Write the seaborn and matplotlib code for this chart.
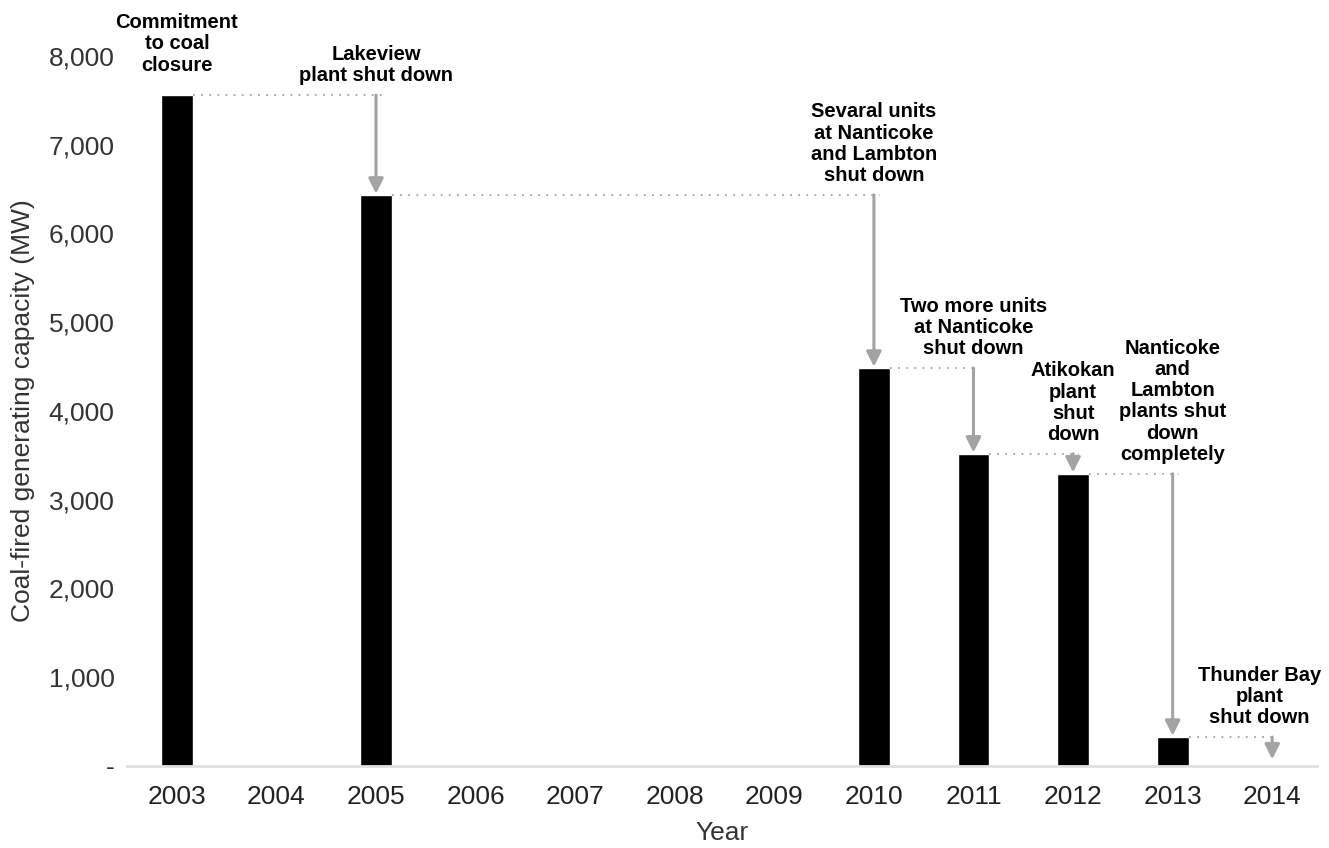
import matplotlib
matplotlib.use("Agg")
import matplotlib.pyplot as plt
from matplotlib.ticker import FuncFormatter
import pandas as pd
import seaborn as sns

years = [2003, 2004, 2005, 2006, 2007, 2008, 2009, 2010, 2011, 2012, 2013, 2014]
capacity = [7560, 0, 6434, 0, 0, 0, 0, 4484, 3517, 3293, 326, 0]

# (from year, to year, text) - the dotted level is taken from the "from" bar,
# the arrow lands on the "to" bar
events = [
    (2003, 2005, "Lakeview\nplant shut down"),
    (2005, 2010, "Sevaral units\nat Nanticoke\nand Lambton\nshut down"),
    (2010, 2011, "Two more units\nat Nanticoke\nshut down"),
    (2011, 2012, "Atikokan\nplant\nshut\ndown"),
    (2012, 2013, "Nanticoke\nand\nLambton\nplants shut\ndown\ncompletely"),
    (2013, 2014, "Thunder Bay\nplant\nshut down"),
]
first_label = "Commitment\nto coal\nclosure"

sns.set_style("white")
plt.rcParams['font.family'] = ['Liberation Sans', 'DejaVu Sans']

df = pd.DataFrame({'year': [str(y) for y in years], 'capacity': capacity})

fig, ax = plt.subplots(figsize=(13.29, 8.48), dpi=100)
fig.subplots_adjust(left=0.0956, right=0.991, bottom=0.0967, top=0.934)

sns.barplot(data=df, x='year', y='capacity', color='black', width=0.32,
            saturation=1, ax=ax)

ax.set_ylim(0, 8000)
ax.set_xlim(-0.5, 11.45)
ax.set_yticks(range(0, 8001, 1000))
ax.yaxis.set_major_formatter(FuncFormatter(lambda v, p: '-' if v == 0 else f'{int(v):,}'))

for s in ['top', 'right', 'left']:
    ax.spines[s].set_visible(False)
ax.spines['bottom'].set_color('#e0e0e0')
ax.spines['bottom'].set_linewidth(2)

ax.tick_params(axis='x', length=0, pad=14, labelsize=19, labelcolor='#222222')
ax.tick_params(axis='y', length=0, pad=9, labelsize=19, labelcolor='#333333')
ax.set_xlabel('Year', fontsize=19, color='#333333', labelpad=8)
ax.set_ylabel('Coal-fired generating capacity (MW)', fontsize=19, color='#333333', labelpad=10)

pos = {y: i for i, y in enumerate(years)}
val = dict(zip(years, capacity))
gray = '#a3a3a3'
half = 0.16

ax.text(pos[2003], val[2003] + 230, first_label, ha='center', va='bottom',
        fontsize=14.5, fontweight='bold', linespacing=1.15, color='black', clip_on=False)

for y0, y1, label in events:
    level = val[y0]
    x0, x1 = pos[y0], pos[y1]
    ax.plot([x0 + half, x1 + 0.06], [level, level], color=gray, lw=1.3,
            linestyle=(0, (1, 3.5)), clip_on=False)
    end = val[y1] if val[y1] > 0 else 60
    ax.annotate('', xy=(x1, end + 15), xytext=(x1, level),
                arrowprops=dict(arrowstyle='-|>,head_length=0.9,head_width=0.45',
                                color=gray, lw=2.2, shrinkA=0, shrinkB=0))
    tx = x1 - 0.13 if y1 == 2014 else x1
    ax.text(tx, level + 110, label, ha='center', va='bottom', fontsize=14.5,
            fontweight='bold', linespacing=1.15, color='black', clip_on=False)

fig.savefig('out.png', dpi=100)
